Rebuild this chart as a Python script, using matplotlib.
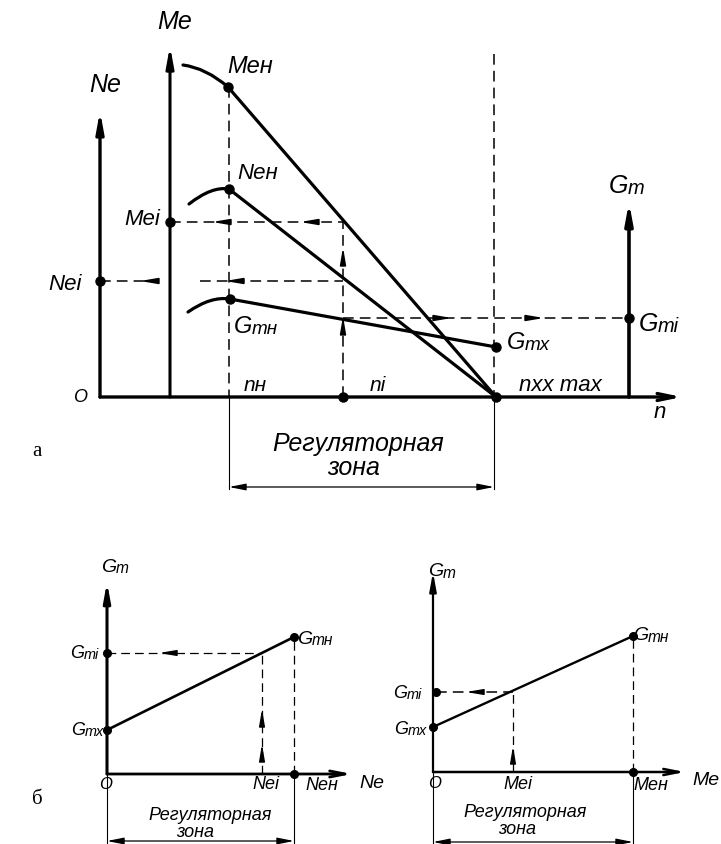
import matplotlib
matplotlib.use("Agg")
import matplotlib.pyplot as plt
from matplotlib.path import Path
from matplotlib.patches import PathPatch

## panel a: origin O, units ~ px of the drawing, y up ##
n_nom, n_i, n_xx = 129, 243, 396
me_axis_n, gm_axis_n, n_axis_end = 70, 529, 582
me_axis_top, ne_axis_top, gm_axis_top = 351, 286, 195

# curves: hook start, hook control, nominal point, end point
me_n = [83, 106, 128, 396]
me_v = [332, 329, 310, 0]
ne_n = [89, 112, 129, 396]
ne_v = [193, 211, 208, 0]
gm_n = [88, 111, 130, 396]
gm_v = [85, 101, 98, 50]
me_i, ne_i, gm_i = 175, 116, 79

## panel b left: Gm vs Ne ##
bl_ne = [0, 187]
bl_gm = [44, 137]
bl_ne_i, bl_gm_i = 155, 121

## panel b right: Gm vs Me ##
br_me = [0, 200]
br_gm = [45, 136]
br_me_i, br_gm_i = 80, 80

zone_text = ["Регуляторная", "зона"]

fig = plt.figure(figsize=(7.21, 8.45), dpi=100)
W, H = 721, 845
lab = dict(family=["Liberation Sans", "DejaVu Sans"], style="italic", color="k")


def panel(ox, oy):
    ax = fig.add_axes([0, 0, 1, 1])
    ax.set_xlim(-ox, W - ox)
    ax.set_ylim(-(H - oy), oy)
    ax.axis("off")
    return ax


def arrow(ax, x0, y0, x1, y1, lw=1.2, hl=0.9, hw=0.2, style="-|>"):
    ax.annotate("", xy=(x1, y1), xytext=(x0, y0),
                arrowprops=dict(arrowstyle="%s,head_length=%s,head_width=%s" % (style, hl, hw),
                                lw=lw, color="k", shrinkA=0, shrinkB=0))


def head(ax, x, y, dx, dy, lw=1.2):
    arrow(ax, x - dx, y - dy, x, y, lw=lw, hl=1.0, hw=0.17)


def dash(ax, xs, ys, lw=1.1):
    ax.plot(xs, ys, color="k", lw=lw, dashes=(7, 4))


def dot(ax, x, y, s=6):
    ax.plot([x], [y], "o", color="k", ms=s)


def curve(ax, xs, ys, lw=2.3):
    # quadratic hook up to the nominal point, then straight line
    verts = list(zip(xs, ys))
    codes = [Path.MOVETO, Path.CURVE3, Path.CURVE3, Path.LINETO]
    ax.add_patch(PathPatch(Path(verts, codes), fill=False, lw=lw, ec="k", capstyle="round"))


def gl(ax, x, y, sub, size):
    # G with smaller subscript part
    t = ax.text(x, y, "G", fontsize=size, ha="right", va="center", **lab)
    ax.annotate(sub, xy=(1, 0), xycoords=t, xytext=(0, 0), textcoords="offset points",
                fontsize=size * 0.8, ha="left", va="bottom", **lab)


## ---------- panel a ----------
ax = panel(100, 398)
arrow(ax, 0, 0, 0, ne_axis_top, lw=2.4, hl=1.2, hw=0.22)
arrow(ax, me_axis_n, 0, me_axis_n, me_axis_top, lw=2.2, hl=1.2, hw=0.22)
arrow(ax, gm_axis_n, 0, gm_axis_n, gm_axis_top, lw=2.6, hl=1.2, hw=0.22)
arrow(ax, 0, 0, n_axis_end, 0, lw=2.4, hl=1.2, hw=0.25, style="->")

curve(ax, me_n, me_v)
curve(ax, ne_n, ne_v)
curve(ax, gm_n, gm_v)

# regulator zone boundaries
dash(ax, [n_nom, n_nom], [me_v[2], 0])
dash(ax, [n_xx - 2, n_xx - 2], [343, 0])
ax.plot([n_nom, n_nom], [0, -92], color="k", lw=0.8)
ax.plot([n_xx - 2, n_xx - 2], [0, -92], color="k", lw=0.8)
arrow(ax, n_nom, -90, n_xx - 2, -90, lw=0.9, hl=1.0, hw=0.2, style="<|-|>")

# construction lines
dash(ax, [me_axis_n, n_i], [me_i, me_i])
dash(ax, [0, 50], [ne_i, ne_i])
dash(ax, [100, n_i], [ne_i, ne_i])
dash(ax, [n_i, n_i], [0, me_i])
dash(ax, [n_i, gm_axis_n], [gm_i, gm_i])
head(ax, 112, me_i, -10, 0)
head(ax, 200, me_i, -10, 0)
head(ax, 40, ne_i, -10, 0)
head(ax, 125, ne_i, -10, 0)
head(ax, n_i, 150, 0, 10)
head(ax, n_i, gm_i + 2, 0, 10)
head(ax, 352, gm_i, 10, 0)
head(ax, 444, gm_i, 10, 0)

for x, y in [(me_n[2], me_v[2]), (ne_n[2], ne_v[2]), (gm_n[2], gm_v[2]),
             (n_xx, gm_v[3]), (n_xx, 0), (n_i, 0), (me_axis_n, me_i),
             (0, ne_i), (gm_axis_n, gm_i)]:
    dot(ax, x, y, 6.5)

ax.text(75, 376, "Me", fontsize=18, ha="center", va="center", **lab)
ax.text(5, 313, "Ne", fontsize=18, ha="center", va="center", **lab)
ax.text(-20, 0, "O", fontsize=13, ha="center", va="center", **lab)
ax.text(150, 331, "Meн", fontsize=17, ha="center", va="center", **lab)
ax.text(158, 224, "Neн", fontsize=16, ha="center", va="center", **lab)
ax.text(42, 178, "Mei", fontsize=16, ha="center", va="center", **lab)
ax.text(-35, 113, "Nei", fontsize=16, ha="center", va="center", **lab)
gl(ax, 152, 71, "тн", 17)
gl(ax, 425, 55, "тх", 17)
gl(ax, 558, 74, "тi", 18)
gl(ax, 528, 212, "т", 18)
ax.text(155, 12, "nн", fontsize=15, ha="center", va="center", **lab)
ax.text(278, 12, "ni", fontsize=15, ha="center", va="center", **lab)
ax.text(460, 12, "nхх max", fontsize=16, ha="center", va="center", **lab)
ax.text(560, -15, "n", fontsize=16, ha="center", va="center", **lab)
ax.text(258, -46, zone_text[0], fontsize=18, ha="center", va="center", **lab)
ax.text(254, -70, zone_text[1], fontsize=18, ha="center", va="center", **lab)
ax.text(-63, -54, "а", fontsize=15, ha="center", va="center", family="Liberation Serif")

## ---------- panel b left ----------
ax = panel(107, 775)
arrow(ax, 0, 0, 0, 192, lw=2.2, hl=1.1, hw=0.2)
arrow(ax, 0, 0, 245, 0, lw=2.0, hl=1.1, hw=0.22, style="->")
ax.plot(bl_ne, bl_gm, color="k", lw=1.9)
dash(ax, [0, bl_ne_i], [bl_gm_i, bl_gm_i], lw=0.9)
dash(ax, [bl_ne_i, bl_ne_i], [0, bl_gm_i], lw=0.9)
dash(ax, [bl_ne[1], bl_ne[1]], [0, bl_gm[1]], lw=0.9)
head(ax, 52, bl_gm_i, -9, 0, lw=1.0)
head(ax, bl_ne_i, 65, 0, 9, lw=1.0)
head(ax, bl_ne_i, 30, 0, 9, lw=1.0)
ax.plot([0, 0], [0, -70], color="k", lw=0.8)
ax.plot([bl_ne[1], bl_ne[1]], [0, -70], color="k", lw=0.8)
arrow(ax, 0, -67, bl_ne[1], -67, lw=0.9, hl=1.0, hw=0.2, style="<|-|>")
for x, y in [(0, bl_gm[0]), (0, bl_gm_i), (bl_ne[1], bl_gm[1]), (bl_ne[1], 0)]:
    dot(ax, x, y, 5.5)
gl(ax, 9, 207, "т", 14)
gl(ax, 205, 135, "тн", 14)
gl(ax, -23, 121, "тi", 13)
gl(ax, -22, 44, "тх", 13)
ax.text(-1, -10, "O", fontsize=12, ha="center", va="center", **lab)
ax.text(159, -10, "Nei", fontsize=13, ha="center", va="center", **lab)
ax.text(215, -11, "Nен", fontsize=13, ha="center", va="center", **lab)
ax.text(265, -9, "Ne", fontsize=14, ha="center", va="center", **lab)
ax.text(103, -41, zone_text[0], fontsize=13, ha="center", va="center", **lab)
ax.text(88, -58, zone_text[1], fontsize=13, ha="center", va="center", **lab)
ax.text(-70, -25, "б", fontsize=15, ha="center", va="center", family="Liberation Serif")

## ---------- panel b right ----------
ax = panel(433, 773)
arrow(ax, 0, 0, 0, 200, lw=1.6, hl=1.1, hw=0.2)
arrow(ax, 0, 0, 252, 0, lw=1.8, hl=1.1, hw=0.22, style="->")
ax.plot(br_me, br_gm, color="k", lw=1.7)
dash(ax, [3, br_me_i], [br_gm_i, br_gm_i], lw=1.1)
dash(ax, [br_me_i, br_me_i], [0, br_gm_i], lw=0.9)
dash(ax, [br_me[1], br_me[1]], [0, br_gm[1]], lw=0.9)
head(ax, 33, br_gm_i, -9, 0, lw=1.0)
head(ax, br_me_i, 26, 0, 9, lw=1.0)
ax.plot([0, 0], [0, -72], color="k", lw=0.8)
ax.plot([br_me[1], br_me[1]], [0, -72], color="k", lw=0.8)
arrow(ax, 0, -70, br_me[1], -70, lw=0.9, hl=1.0, hw=0.2, style="<|-|>")
for x, y in [(0, br_gm[0]), (3, br_gm_i), (br_me[1], br_gm[1]), (br_me[1], 0)]:
    dot(ax, x, y, 5.5)
gl(ax, 10, 201, "т", 14)
gl(ax, 215, 137, "тн", 14)
gl(ax, -26, 79, "тi", 13)
gl(ax, -25, 43, "тх", 13)
ax.text(2, -11, "O", fontsize=12, ha="center", va="center", **lab)
ax.text(85, -12, "Mei", fontsize=13, ha="center", va="center", **lab)
ax.text(218, -13, "Meн", fontsize=13, ha="center", va="center", **lab)
ax.text(273, -8, "Me", fontsize=14, ha="center", va="center", **lab)
ax.text(92, -40, zone_text[0], fontsize=13, ha="center", va="center", **lab)
ax.text(84, -57, zone_text[1], fontsize=13, ha="center", va="center", **lab)

fig.savefig("out.png", dpi=100, facecolor="white")
